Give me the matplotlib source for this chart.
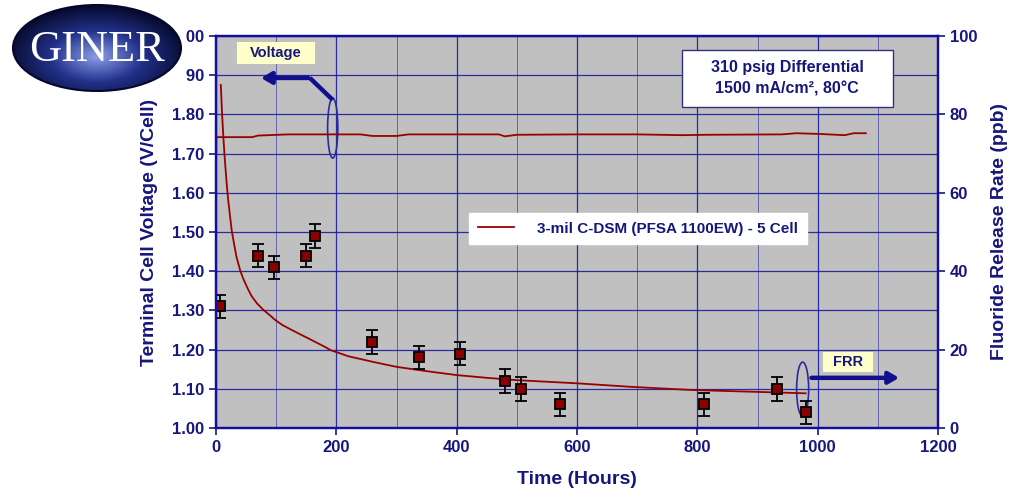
import numpy as np
import matplotlib.pyplot as plt
from matplotlib.patches import Ellipse, Rectangle
from matplotlib.colors import LinearSegmentedColormap

navy = '#16167c'
red = '#8b0000'
plt.rcParams['font.family'] = ['Liberation Sans', 'DejaVu Sans']
plt.rcParams['font.weight'] = 'bold'

# stack voltage (V/cell) vs time
volt_hours = [0, 0.5, 60, 70, 120, 240, 260, 300, 320, 400, 470, 480, 500, 600, 700, 775, 815, 940, 965,
              1005, 1045, 1060, 1080]
volt_vals = [1.64, 1.742, 1.742, 1.746, 1.749, 1.749, 1.745, 1.745, 1.749, 1.749, 1.749, 1.744, 1.748,
             1.749, 1.749, 1.747, 1.748, 1.749, 1.752, 1.750, 1.747, 1.752, 1.752]

# fluoride release rate measurements (ppb)
frr_hours = [7, 69, 97, 150, 165, 260, 337, 405, 480, 507, 572, 811, 932, 980]
frr_ppb = [31, 44, 41, 44, 49, 22, 18, 19, 12, 10, 6, 6, 10, 4]
frr_err = [3, 3, 3, 3, 3, 3, 3, 3, 3, 3, 3, 3, 3, 3]

# trend line (ppb)
trend_hours = [8, 10, 12, 14, 16, 18, 20, 23, 26, 30, 34, 40, 45, 52, 59, 68, 79, 90, 98, 110, 126, 140,
               153, 167, 181, 190, 220, 260, 300, 350, 400, 450, 500, 600, 690, 790, 880, 980]
trend_ppb = [87.5, 80.5, 74.8, 70.0, 65.8, 62.0, 58.5, 54.5, 50.5, 47.0, 43.7, 40.3, 38.2, 35.8, 33.7,
             31.8, 30.1, 28.7, 27.6, 26.3, 25.0, 23.9, 22.9, 21.8, 20.7, 19.9, 18.3, 16.9, 15.6, 14.5,
             13.5, 12.8, 12.2, 11.4, 10.5, 9.7, 9.3, 8.85]

W, H = 1009, 497
fig = plt.figure(figsize=(W / 100, H / 100), dpi=100)
ax = fig.add_axes([216 / W, 1 - 428 / H, (938 - 216) / W, (428 - 36) / H])
ax.set_facecolor('#c0c0c0')

ax.set_xlim(0, 1200)
ax.set_ylim(1.0, 2.0)
ax.set_xticks(range(0, 1201, 200))
ax.set_xticks(range(100, 1200, 200), minor=True)
ax.set_yticks(np.arange(1.0, 2.001, 0.1))
ax.set_yticklabels(['%.2f' % v for v in np.arange(1.0, 2.001, 0.1)])
ax.grid(True, which='major', axis='both', color='#1a1aa0', lw=0.9, alpha=0.9)
ax.grid(True, which='minor', axis='x', color='#1a1aa0', lw=0.7, alpha=0.55)
ax.tick_params(which='minor', length=0)
ax.tick_params(which='major', colors=navy, labelsize=12, width=1.2, length=5)
for s in ax.spines.values():
    s.set_color('#1010a0')
    s.set_linewidth(1.6)
ax.set_axisbelow(True)

vline, = ax.plot(volt_hours, volt_vals, color='#990000', lw=1.3,
                 label='3-mil C-DSM (PFSA 1100EW) - 5 Cell')
ax.set_xlabel('Time (Hours)', fontsize=14, fontweight='bold', color=navy, labelpad=12)
ax.set_ylabel('Terminal Cell Voltage (V/Cell)', fontsize=14, fontweight='bold', color=navy, labelpad=10)

ax2 = ax.twinx()
ax2.set_ylim(0, 100)
ax2.set_yticks(range(0, 101, 20))
ax2.tick_params(colors=navy, labelsize=12, width=1.2, length=5)
ax2.set_ylabel('Fluoride Release Rate (ppb)', fontsize=14, fontweight='bold', color=navy, labelpad=10)
for s in ax2.spines.values():
    s.set_color('#1010a0')
    s.set_linewidth(1.6)

ax2.plot(trend_hours, trend_ppb, color='#990000', lw=1.3)
ax2.errorbar(frr_hours, frr_ppb, yerr=frr_err, fmt='s', ms=7, mfc=red, mec='black', mew=1.3,
             ecolor='black', elinewidth=1.3, capsize=4, capthick=1.3)

leg = ax2.legend(handles=[vline], loc='upper left', bbox_to_anchor=(0.34, 0.567), fontsize=11,
                 frameon=True, fancybox=False, framealpha=1, edgecolor='white',
                 handlelength=2.4, handletextpad=1.5, borderpad=0.55)
for t in leg.get_texts():
    t.set_color(navy)

# condition box
ax2.add_patch(Rectangle((774, 81.9), 351, 14.5, fc='white', ec='#303080', lw=1, zorder=5))
ax2.text(949.5, 89.2, '310 psig Differential\n1500 mA/cm², 80°C', ha='center', va='center',
         fontsize=11.5, color=navy, linespacing=1.6, zorder=6)

# Voltage callout
ax.add_patch(Rectangle((35, 1.928), 130, 0.056, fc='#ffffcc', ec='none', zorder=5))
ax.text(100, 1.956, 'Voltage', ha='center', va='center', fontsize=10.5, color=navy, zorder=6)
ax.plot([194, 156], [1.837, 1.893], color='#10108c', lw=3.2, solid_capstyle='butt')
ax.annotate('', xy=(70, 1.893), xytext=(158, 1.893),
            arrowprops=dict(arrowstyle='-|>,head_length=0.6,head_width=0.35', color='#10108c', lw=3.2))
ax.add_patch(Ellipse((194, 1.765), 17, 0.153, fill=False, ec='#2a2aa0', lw=1.2))

# FRR callout
ax2.add_patch(Rectangle((1009, 14.3), 83, 5.1, fc='#ffffcc', ec='none', zorder=5))
ax2.text(1050, 16.9, 'FRR', ha='center', va='center', fontsize=10.5, color=navy, zorder=6)
ax2.annotate('', xy=(1140, 12.8), xytext=(985, 12.8),
             arrowprops=dict(arrowstyle='-|>,head_length=0.6,head_width=0.35', color='#10108c', lw=3.2))
ax2.add_patch(Ellipse((975, 9.9), 20, 13.8, fill=False, ec='#2a2aa0', lw=1.2))

# logo
lax = fig.add_axes([0, 1 - 92 / H, 185 / W, 92 / H], zorder=10)
lax.set_xlim(0, 185)
lax.set_ylim(92, 0)
lax.set_facecolor('white')
lax.set_xticks([])
lax.set_yticks([])
for s in lax.spines.values():
    s.set_visible(False)
yy, xx = np.mgrid[0:1:100j, 0:1:200j]
r = np.sqrt(((xx - 0.5) / 0.55) ** 2 + ((yy - 0.6) / 0.6) ** 2)
grad = np.clip(1 - r, 0, 1)
cmap = LinearSegmentedColormap.from_list('logo', ['#060a2c', '#22318a', '#8a9be6'])
el = Ellipse((97, 48), 168, 86, fc='none', ec='#05082a', lw=1.5)
lax.add_patch(el)
im = lax.imshow(grad, cmap=cmap, extent=[13, 181, 91, 5], aspect='auto')
im.set_clip_path(el)
lax.text(97, 50, 'GINER', ha='center', va='center', color='white', fontsize=32,
         family='Liberation Serif', weight='normal')

fig.savefig('out.png', dpi=100)
